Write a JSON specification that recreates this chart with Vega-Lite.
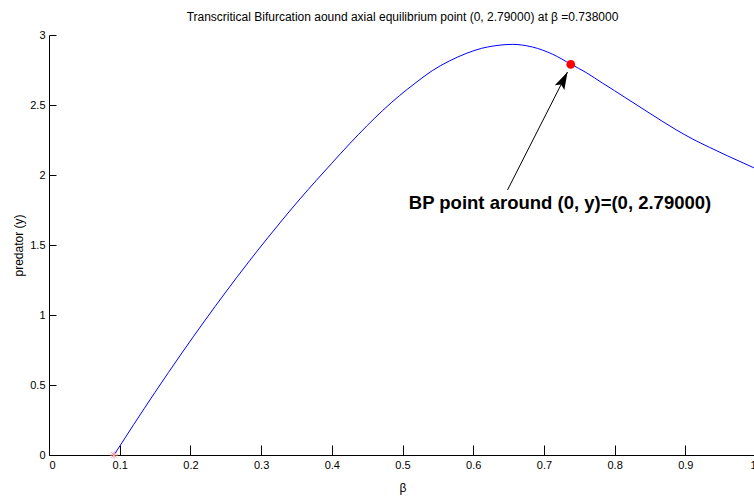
{
  "$schema": "https://vega.github.io/schema/vega-lite/v6.json",
  "autosize": "none",
  "width": 707,
  "height": 420,
  "padding": {"left": 49, "top": 35, "right": 0, "bottom": 42},
  "background": "white",
  "config": {
    "view": {"stroke": null},
    "font": "Liberation Sans",
    "axis": {
      "grid": false,
      "domainColor": "black",
      "tickColor": "black",
      "labelColor": "black",
      "titleColor": "black",
      "labelFont": "Liberation Sans",
      "titleFont": "Liberation Sans",
      "labelFontSize": 11,
      "titleFontSize": 12,
      "titleFontWeight": "normal",
      "domainWidth": 1,
      "tickWidth": 1
    }
  },
  "title": {
    "text": "Transcritical Bifurcation aound axial equilibrium point (0, 2.79000) at β =0.738000",
    "font": "Liberation Sans",
    "fontSize": 12,
    "fontWeight": "normal",
    "color": "black",
    "anchor": "middle",
    "offset": 5
  },
  "datasets": {
    "curve": [
      {"b": 0.092, "p": 0},
      {"b": 0.12, "p": 0.219},
      {"b": 0.15, "p": 0.448},
      {"b": 0.188, "p": 0.729},
      {"b": 0.22, "p": 0.957},
      {"b": 0.25, "p": 1.164},
      {"b": 0.2836, "p": 1.387},
      {"b": 0.31, "p": 1.555},
      {"b": 0.331, "p": 1.685},
      {"b": 0.355, "p": 1.829},
      {"b": 0.378, "p": 1.961},
      {"b": 0.4, "p": 2.084},
      {"b": 0.425, "p": 2.222},
      {"b": 0.45, "p": 2.353},
      {"b": 0.472, "p": 2.461},
      {"b": 0.496, "p": 2.568},
      {"b": 0.519, "p": 2.66},
      {"b": 0.542, "p": 2.745},
      {"b": 0.5665, "p": 2.815},
      {"b": 0.59, "p": 2.868},
      {"b": 0.612, "p": 2.905},
      {"b": 0.628, "p": 2.921},
      {"b": 0.645, "p": 2.931},
      {"b": 0.656, "p": 2.933},
      {"b": 0.668, "p": 2.929},
      {"b": 0.684, "p": 2.914},
      {"b": 0.7126, "p": 2.862},
      {"b": 0.738, "p": 2.792},
      {"b": 0.76, "p": 2.731},
      {"b": 0.7833, "p": 2.655},
      {"b": 0.8, "p": 2.602},
      {"b": 0.816, "p": 2.55},
      {"b": 0.85, "p": 2.44},
      {"b": 0.887, "p": 2.323},
      {"b": 0.91, "p": 2.258},
      {"b": 0.934, "p": 2.198},
      {"b": 0.96, "p": 2.136},
      {"b": 0.9955, "p": 2.055},
      {"b": 1.0, "p": 2.045}
    ],
    "bp": [{"b": 0.738, "p": 2.79}],
    "start": [{"b": 0.092, "p": 0}],
    "arrow": [{"b": 0.6485, "p": 1.893, "b2": 0.7334, "p2": 2.736}],
    "head": [{"b": 0.7334, "p": 2.736}],
    "label": [{"b": 0.7228, "p": 1.8, "t": "BP point around (0, y)=(0, 2.79000)"}]
  },
  "encoding": {
    "x": {
      "field": "b",
      "type": "quantitative",
      "scale": {"domain": [0, 1], "nice": false, "zero": false},
      "axis": {
        "title": "β",
        "values": [0, 0.1, 0.2, 0.3, 0.4, 0.5, 0.6, 0.7, 0.8, 0.9, 1],
        "format": "~g",
        "tickSize": -10,
        "labelPadding": 14,
        "titlePadding": 12
      }
    },
    "y": {
      "field": "p",
      "type": "quantitative",
      "scale": {"domain": [0, 3], "nice": false},
      "axis": {
        "title": "predator (y)",
        "values": [0, 0.5, 1, 1.5, 2, 2.5, 3],
        "format": "~g",
        "tickSize": -7,
        "labelPadding": 11,
        "titlePadding": 4
      }
    }
  },
  "layer": [
    {
      "data": {"name": "curve"},
      "mark": {"type": "line", "color": "#0000ff", "strokeWidth": 1, "interpolate": "monotone"}
    },
    {
      "data": {"name": "arrow"},
      "mark": {"type": "rule", "color": "black", "strokeWidth": 1},
      "encoding": {
        "x2": {"field": "b2"},
        "y2": {"field": "p2"}
      }
    },
    {
      "data": {"name": "head"},
      "mark": {
        "type": "point",
        "shape": "M0,0L0.55,1.8L0,1.45L-0.55,1.8Z",
        "filled": true,
        "color": "black",
        "opacity": 1,
        "size": 380,
        "angle": 27
      }
    },
    {
      "data": {"name": "bp"},
      "mark": {"type": "point", "shape": "circle", "filled": true, "color": "#ff0000", "opacity": 1, "size": 75}
    },
    {
      "data": {"name": "start"},
      "mark": {
        "type": "point",
        "shape": "M-1,0L1,0M0,-1L0,1M-0.7,-0.7L0.7,0.7M-0.7,0.7L0.7,-0.7",
        "filled": false,
        "color": "#ff9999",
        "opacity": 1,
        "size": 60,
        "strokeWidth": 1
      }
    },
    {
      "data": {"name": "label"},
      "mark": {"type": "text", "font": "Liberation Sans", "fontSize": 18.5, "fontWeight": "bold", "color": "black", "align": "center", "baseline": "middle"},
      "encoding": {"text": {"field": "t"}}
    }
  ]
}
